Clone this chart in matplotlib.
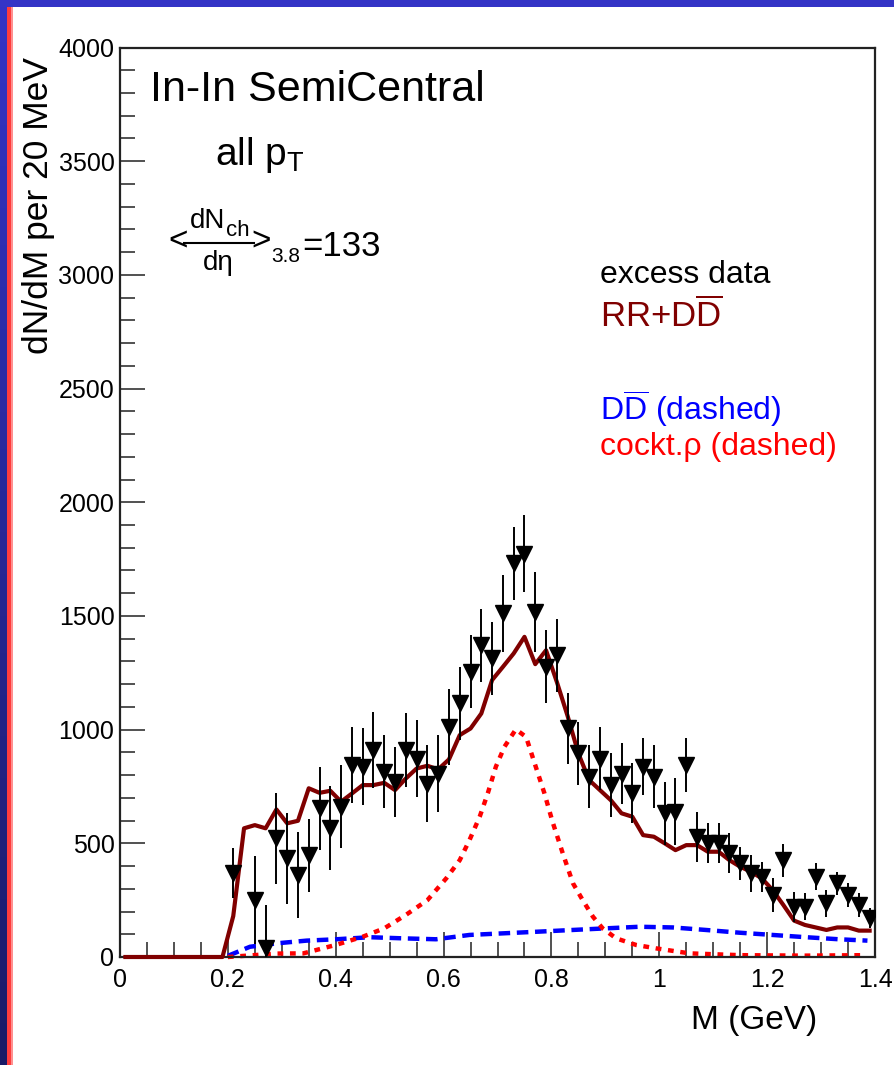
import numpy as np
import matplotlib.pyplot as plt
from matplotlib.patches import Rectangle
from matplotlib.lines import Line2D
from matplotlib.colors import LinearSegmentedColormap
from matplotlib.ticker import MultipleLocator

W, H = 894, 1065

plt.rcParams['font.family'] = ['Liberation Sans', 'DejaVu Sans']
plt.rcParams['mathtext.fontset'] = 'custom'
plt.rcParams['mathtext.rm'] = 'Liberation Sans'
plt.rcParams['mathtext.it'] = 'Liberation Sans'
plt.rcParams['mathtext.bf'] = 'Liberation Sans:bold'

# ========= excess data (20 MeV bins) =========
data_m = [0.21, 0.25, 0.27, 0.29, 0.31, 0.33, 0.35, 0.37, 0.39, 0.41,
          0.43, 0.45, 0.47, 0.49, 0.51, 0.53, 0.55, 0.57, 0.59, 0.61,
          0.63, 0.65, 0.67, 0.69, 0.71, 0.73, 0.75, 0.77, 0.79, 0.81,
          0.83, 0.85, 0.87, 0.89, 0.91, 0.93, 0.95, 0.97, 0.99, 1.01,
          1.03, 1.05, 1.07, 1.09, 1.11, 1.13, 1.15, 1.17, 1.19, 1.21,
          1.23, 1.25, 1.27, 1.29, 1.31, 1.33, 1.35, 1.37, 1.39]
data_y = [368, 250, 38, 522, 434, 360, 448, 654, 566, 661,
          844, 837, 910, 815, 771, 910, 873, 763, 807, 1012,
          1115, 1254, 1371, 1313, 1511, 1731, 1774, 1518, 1276, 1327,
          1005, 895, 793, 873, 756, 807, 720, 837, 793, 632,
          639, 844, 529, 500, 500, 456, 412, 368, 353, 273,
          426, 221, 221, 353, 236, 324, 273, 229, 170]
data_err = [110, 195, 190, 200, 200, 190, 160, 183, 185, 183,
            168, 168, 168, 161, 154, 161, 168, 168, 168, 168,
            161, 161, 161, 161, 168, 161, 168, 176, 161, 161,
            154, 139, 139, 139, 139, 132, 132, 125, 139, 139,
            147, 117, 110, 88, 88, 88, 73, 80, 66, 73,
            73, 66, 59, 59, 59, 51, 51, 51, 44]

# ========= RR + DDbar =========
rr_m = [0.01, 0.03, 0.05, 0.07, 0.09, 0.11, 0.13, 0.15, 0.17, 0.19,
        0.21, 0.23, 0.25, 0.27, 0.29, 0.31, 0.33, 0.35, 0.37, 0.39,
        0.41, 0.43, 0.45, 0.47, 0.49, 0.51, 0.53, 0.55, 0.57, 0.59,
        0.61, 0.63, 0.65, 0.67, 0.69, 0.71, 0.73, 0.75, 0.77, 0.79,
        0.81, 0.83, 0.85, 0.87, 0.89, 0.91, 0.93, 0.95, 0.97, 0.99,
        1.01, 1.03, 1.05, 1.07, 1.09, 1.11, 1.13, 1.15, 1.17, 1.19,
        1.21, 1.23, 1.25, 1.27, 1.29, 1.31, 1.33, 1.35, 1.37, 1.39]
rr_y = [0, 0, 0, 0, 0, 0, 0, 0, 0, 0,
        180, 566, 580, 566, 649, 588, 599, 742, 722, 731,
        683, 719, 756, 756, 766, 734, 785, 829, 841, 825,
        869, 976, 1005, 1071, 1218, 1276, 1335, 1408, 1288, 1349,
        1210, 1060, 895, 778, 734, 690, 632, 617, 536, 529,
        500, 470, 492, 492, 463, 463, 426, 397, 375, 346,
        295, 229, 160, 141, 130, 119, 130, 130, 116, 116]

# ========= DDbar alone =========
dd_m = [0.20, 0.241, 0.29, 0.346, 0.401, 0.463, 0.525, 0.586, 0.648, 0.71,
        0.772, 0.84, 0.901, 0.963, 1.025, 1.086, 1.148, 1.21, 1.272, 1.333, 1.386]
dd_y = [5, 45, 60, 72, 78, 87, 82, 78, 97, 104,
        111, 119, 126, 133, 130, 119, 107, 97, 87, 78, 72]

# ========= cocktail rho =========
rho_m = [0.20, 0.29, 0.34, 0.40, 0.45, 0.49, 0.53, 0.57, 0.605, 0.63,
         0.648, 0.667, 0.682, 0.697, 0.713, 0.734, 0.753, 0.769, 0.787, 0.802,
         0.821, 0.84, 0.858, 0.877, 0.895, 0.92, 0.957, 0.994, 1.056, 1.15,
         1.27, 1.38]
rho_y = [0, 15, 16, 53, 89, 126, 185, 250, 346, 426,
         514, 617, 720, 837, 925, 1001, 968, 851, 720, 595,
         456, 324, 250, 177, 126, 82, 53, 38, 16, 8,
         6, 8]

x_ticks = [0, 0.2, 0.4, 0.6, 0.8, 1.0, 1.2, 1.4]
x_tick_labels = ["0", "0.2", "0.4", "0.6", "0.8", "1", "1.2", "1.4"]
y_ticks = [0, 500, 1000, 1500, 2000, 2500, 3000, 3500, 4000]


def fpos(x, y):
    # pixel position (from top-left) -> figure fraction
    return x / W, 1 - y / H


fig = plt.figure(figsize=(W / 100, H / 100), dpi=100)
fig.patch.set_facecolor('white')

# ========= slide border =========
strip = fig.add_axes([0, 0, 7 / W, 1])
strip_cmap = LinearSegmentedColormap.from_list('strip', ['#3434c6', '#1a1a66'])
strip.imshow(np.linspace(0, 1, 256)[:, None], aspect='auto', cmap=strip_cmap)
strip.axis('off')
fig.add_artist(Rectangle((7 / W, 0), 4 / W, 1, transform=fig.transFigure,
                         facecolor='#ff3c3c', edgecolor='none'))
fig.add_artist(Rectangle((11 / W, 0), 1.5 / W, 1, transform=fig.transFigure,
                         facecolor='#ff9090', edgecolor='none'))
fig.add_artist(Rectangle((0, 1 - 7 / H), 1, 7 / H, transform=fig.transFigure,
                         facecolor='#3434c6', edgecolor='none'))

# ========= main frame =========
ax = fig.add_axes([120 / W, (H - 957) / H, (875 - 120) / W, (957 - 47.5) / H])
ax.set_xlim(0, 1.4)
ax.set_ylim(0, 4000)

ax.plot(dd_m, dd_y, color='#0000ff', lw=3.2, linestyle=(0, (2.6, 1.5)), clip_on=False, zorder=2)
ax.plot(rho_m, rho_y, color='#ff0000', lw=3.2, linestyle=(0, (1.3, 1.5)), clip_on=False, zorder=2)
ax.plot(rr_m, rr_y, color='#800000', lw=3, clip_on=False, zorder=3)
ax.errorbar(data_m, data_y, yerr=data_err, fmt='v', color='black', ms=11.5,
            elinewidth=1.4, capsize=0, zorder=4)

ax.set_xticks(x_ticks)
ax.set_xticklabels(x_tick_labels)
ax.set_yticks(y_ticks)
ax.xaxis.set_minor_locator(MultipleLocator(0.05))
ax.yaxis.set_minor_locator(MultipleLocator(100))
ax.tick_params(which='both', direction='in', top=False, right=False, width=1.1, color='#222222')
ax.tick_params(which='major', length=18, labelsize=18)
ax.tick_params(which='minor', length=10.8)
ax.tick_params(axis='x', pad=8)
ax.tick_params(axis='y', pad=4)
for sp in ax.spines.values():
    sp.set_linewidth(1.6)
    sp.set_color('#222222')

# ========= axis titles =========
fig.text(*fpos(39, 206), 'dN/dM per 20 MeV', rotation=90, ha='center', va='center', fontsize=25.5)
fig.text(*fpos(817, 1029), 'M (GeV)', ha='right', va='baseline', fontsize=24)

# ========= labels inside the frame =========
fig.text(*fpos(150, 101), 'In-In SemiCentral', ha='left', va='baseline', fontsize=31)
fig.text(*fpos(215, 165), r'all p$_{\mathrm{T}}$', ha='left', va='baseline', fontsize=28)

fig.text(*fpos(168, 242), '<', ha='left', va='center', fontsize=24)
fig.text(*fpos(190, 228), 'dN', ha='left', va='baseline', fontsize=20)
fig.text(*fpos(226, 236), 'ch', ha='left', va='baseline', fontsize=16)
fig.add_artist(Line2D([184 / W, 254 / W], [1 - 243 / H, 1 - 243 / H],
                      transform=fig.transFigure, color='black', lw=1.5))
fig.text(*fpos(203, 270), 'd\u03b7', ha='left', va='baseline', fontsize=20)
fig.text(*fpos(251, 242), '>', ha='left', va='center', fontsize=24)
fig.text(*fpos(271, 262), '3.8', ha='left', va='baseline', fontsize=15)
fig.text(*fpos(302, 256), '=133', ha='left', va='baseline', fontsize=25)

fig.text(*fpos(600, 283), 'excess data', ha='left', va='baseline', fontsize=23, color='black')
fig.text(*fpos(600, 327), r'RR+D$\overline{\mathrm{D}}$', ha='left', va='baseline',
         fontsize=25, color='#800000')
fig.text(*fpos(600, 420), r'D$\overline{\mathrm{D}}$ (dashed)', ha='left', va='baseline',
         fontsize=23, color='#0000ff')
fig.text(*fpos(600, 455), 'cockt.\u03c1 (dashed)', ha='left', va='baseline',
         fontsize=23, color='#ff0000')

fig.savefig('out.png', dpi=100, facecolor='white')
